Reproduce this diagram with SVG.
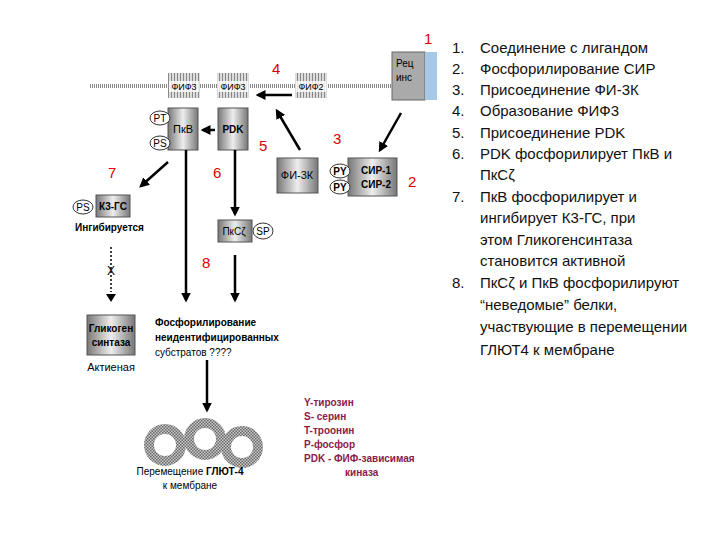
<svg xmlns="http://www.w3.org/2000/svg" width="720" height="540" viewBox="0 0 720 540">
<defs>
<linearGradient id="g" x1="0" y1="0" x2="1" y2="0"><stop offset="0" stop-color="#777"/><stop offset="0.5" stop-color="#eee"/><stop offset="1" stop-color="#777"/></linearGradient>
<pattern id="h" width="3" height="4" patternUnits="userSpaceOnUse"><rect width="3" height="4" fill="#ddd"/><rect width="1" height="4" fill="#888"/></pattern>
<pattern id="r" width="3" height="3" patternUnits="userSpaceOnUse"><rect width="3" height="3" fill="#ccc"/><rect width="1.5" height="1.5" fill="#666"/><rect x="1.5" y="1.5" width="1.5" height="1.5" fill="#666"/></pattern>
<marker id="a" markerWidth="4" markerHeight="4" refX="3" refY="2" orient="auto"><path d="M0,0L4,2L0,4z" fill="#000"/></marker>
</defs>
<style>
text{font-family:"Liberation Sans",Arial,sans-serif}
.b{fill:url(#g);stroke:#555}
.s{font-size:10px;font-weight:bold}
.n{fill:#d00;font-size:15px}
.e{fill:#fff;stroke:#333}
.l{stroke:#000;stroke-width:2.5;fill:none;marker-end:url(#a)}
.lg{fill:#8b1a4a;font-size:10px;font-weight:bold}
.li{font-size:15px;fill:#111}
.fl{fill:#fff;opacity:0.8}
</style>
<rect width="720" height="540" fill="#fff"/>
<line x1="90" y1="86" x2="437" y2="86" stroke="#888" stroke-width="4" stroke-dasharray="1 1"/>
<g id="rec"><rect x="392" y="52" width="33" height="48" fill="#aaa" stroke="#666"/><rect x="425" y="52" width="12" height="48" fill="#a8c8e8"/><text x="396" y="67" font-size="10">Рец</text><text x="396" y="81" font-size="10">инс</text></g>
<g id="fif1"><rect x="168" y="73" width="32" height="25" fill="url(#h)"/><rect class="fl" x="169" y="81" width="30" height="11"/><text x="184" y="90" font-size="9" text-anchor="middle">ФИФ3</text></g>
<g id="fif2"><rect x="217" y="73" width="32" height="25" fill="url(#h)"/><rect class="fl" x="218" y="81" width="30" height="11"/><text x="233" y="90" font-size="9" text-anchor="middle">ФИФ3</text></g>
<g id="fif3"><rect x="295" y="73" width="32" height="25" fill="url(#h)"/><rect class="fl" x="296" y="81" width="30" height="11"/><text x="311" y="90" font-size="9" text-anchor="middle">ФИФ2</text></g>
<g id="pkb"><rect class="b" x="168" y="108" width="30" height="42"/><text x="183" y="133" font-size="11" text-anchor="middle">ПкВ</text>
<ellipse class="e" cx="160" cy="118" rx="10" ry="7"/><text x="160" y="122" font-size="10" text-anchor="middle">PT</text>
<ellipse class="e" cx="160" cy="143" rx="10" ry="7"/><text x="160" y="147" font-size="10" text-anchor="middle">PS</text></g>
<g id="pdk"><rect class="b" x="218" y="108" width="30" height="42"/><text x="233" y="133" class="s" text-anchor="middle">PDK</text></g>
<g id="pi3k"><rect class="b" x="277" y="158" width="41" height="35"/><text x="297" y="179" font-size="11" text-anchor="middle">ФИ-3К</text></g>
<g id="sir"><rect class="b" x="348" y="158" width="49" height="38"/><text x="376" y="174" class="s" text-anchor="middle">СИР-1</text><text x="376" y="188" class="s" text-anchor="middle">СИР-2</text>
<ellipse class="e" cx="340" cy="171" rx="10" ry="7"/><text x="340" y="175" class="s" text-anchor="middle">PY</text>
<ellipse class="e" cx="340" cy="187" rx="10" ry="7"/><text x="340" y="191" class="s" text-anchor="middle">PY</text></g>
<g id="k3gs"><rect class="b" x="96" y="195" width="34" height="22"/><text x="113" y="210" class="s" text-anchor="middle">К3-ГС</text>
<ellipse class="e" cx="83" cy="207" rx="10" ry="7"/><text x="83" y="211" font-size="10" text-anchor="middle">PS</text>
<text x="75" y="231" class="s">Ингибируется</text></g>
<g id="pkc"><rect class="b" x="218" y="220" width="34" height="22"/><text x="234" y="235" font-size="10" text-anchor="middle">ПкСζ</text>
<ellipse class="e" cx="263" cy="231" rx="10" ry="8"/><text x="263" y="235" font-size="10" text-anchor="middle">SP</text></g>
<g id="gs"><rect class="b" x="87" y="315" width="48" height="40"/><text x="111" y="332" class="s" text-anchor="middle">Гликоген</text><text x="111" y="346" class="s" text-anchor="middle">синтаза</text><text x="111" y="371" font-size="11" text-anchor="middle">Актиеная</text></g>
<g id="sub"><text x="155" y="326" class="s">Фосфорилирование</text><text x="155" y="341" class="s">неидентифицированных</text><text x="155" y="356" font-size="10">субстратов ????</text></g>
<g id="glut">
<circle cx="165" cy="445" r="16" fill="none" stroke="url(#r)" stroke-width="10"/>
<circle cx="205" cy="439" r="16" fill="none" stroke="url(#r)" stroke-width="10"/>
<circle cx="242" cy="447" r="16" fill="none" stroke="url(#r)" stroke-width="10"/>
<text x="190" y="475" font-size="10" text-anchor="middle"><tspan>Перемещение  </tspan><tspan font-weight="bold">ГЛЮТ-4</tspan></text><text x="190" y="489" font-size="10" text-anchor="middle">к мембране</text></g>
<g id="labels">
<text class="n" x="424" y="44">1</text><text class="n" x="408" y="187">2</text><text class="n" x="333" y="144">3</text><text class="n" x="272" y="74">4</text>
<text class="n" x="259" y="151">5</text><text class="n" x="213" y="178">6</text><text class="n" x="108" y="178">7</text><text class="n" x="202" y="268">8</text></g>
<g id="connectors">
<line class="l" x1="292" y1="95" x2="258" y2="95"/>
<line class="l" x1="215" y1="130" x2="203" y2="130" stroke-width="2"/>
<line class="l" x1="300" y1="150" x2="277" y2="111"/>
<line class="l" x1="401" y1="113" x2="380" y2="150" stroke-width="3"/>
<line class="l" x1="168" y1="162" x2="141" y2="186" stroke-width="2"/>
<line class="l" x1="186" y1="150" x2="186" y2="300"/>
<line class="l" x1="235" y1="150" x2="235" y2="214"/>
<line class="l" x1="235" y1="255" x2="235" y2="300"/>
<line x1="111" y1="247" x2="111" y2="292" stroke="#000" stroke-width="1.5" stroke-dasharray="2 2"/>
<path d="M106,294L116,294L111,302z"/>
<text x="111" y="275" font-size="12" text-anchor="middle">X</text>
<line class="l" x1="207" y1="360" x2="207" y2="410"/>
</g>
<g id="legend">
<text class="lg" x="304" y="406">Y-тирозин</text><text class="lg" x="304" y="420">S- серин</text><text class="lg" x="304" y="434">T-троонин</text><text class="lg" x="304" y="448">P-фосфор</text><text class="lg" x="304" y="462">PDK - ФИФ-зависимая</text><text class="lg" x="345" y="476">киназа</text></g>
<g id="list">
<text class="li" x="452" y="53">1.</text><text class="li" x="480" y="53">Соединение с лигандом</text>
<text class="li" x="452" y="74">2.</text><text class="li" x="480" y="74">Фосфорилирование СИР</text>
<text class="li" x="452" y="95">3.</text><text class="li" x="480" y="95">Присоединение ФИ-3К</text>
<text class="li" x="452" y="116">4.</text><text class="li" x="480" y="116">Образование ФИФ3</text>
<text class="li" x="452" y="138">5.</text><text class="li" x="480" y="138">Присоединение PDK</text>
<text class="li" x="452" y="159">6.</text><text class="li" x="480" y="159">PDK фосфорилирует ПкВ и</text>
<text class="li" x="480" y="180">ПкСζ</text>
<text class="li" x="452" y="202">7.</text><text class="li" x="480" y="202">ПкВ фосфорилирует и</text>
<text class="li" x="480" y="223">ингибирует  К3-ГС, при</text>
<text class="li" x="480" y="245">этом Гликогенсинтаза</text>
<text class="li" x="480" y="266">становится  активной</text>
<text class="li" x="452" y="288">8.</text><text class="li" x="480" y="288" font-size="14">ПкСζ и ПкВ фосфорилируют</text>
<text class="li" x="480" y="310" font-size="14">“неведомые” белки,</text>
<text class="li" x="480" y="332" font-size="14">участвующие в перемещении</text>
<text class="li" x="480" y="355" font-size="14">ГЛЮТ4 к мембране</text>
</g>
</svg>
